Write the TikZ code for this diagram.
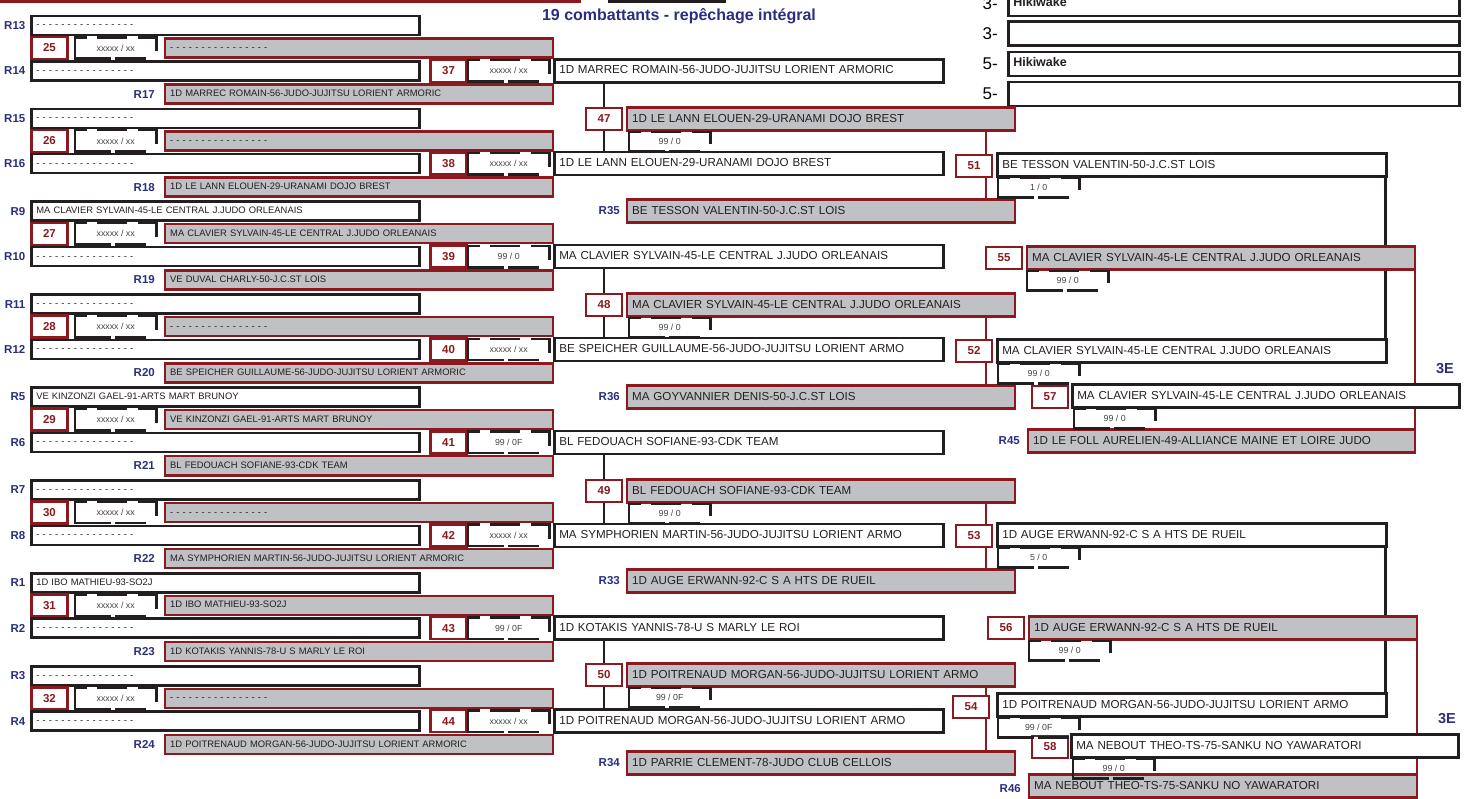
\documentclass[tikz,border=0pt]{standalone}
\usepackage{fontspec}
\setmainfont{Liberation Sans}
\usetikzlibrary{backgrounds}

\definecolor{fdred}{RGB}{139,26,32}
\definecolor{fdgray}{RGB}{192,193,197}
\definecolor{fdblue}{RGB}{43,46,128}
\definecolor{fdblack}{RGB}{35,31,32}
\newcommand{\lignevide}{- - - - - - - - - - - - - - - -}

\begin{document}
\begin{tikzpicture}[x=1pt, y=-1pt,
    name_box/.style={draw=fdblack, line width=2.6pt, fill=white, anchor=west,
        minimum height=19pt, text width=378pt, inner xsep=5pt, inner ysep=0pt,
        text height=6.8pt, text depth=1.8pt, align=left, text=fdblack,
        font=\fontsize{9.4}{10}\selectfont},
    rep_box/.style={name_box, draw=fdred, line width=2.4pt, fill=fdgray},
    win_box/.style={name_box, minimum height=23pt, text width=379pt,
        text height=8.4pt, text depth=2.2pt, font=\fontsize{11.6}{13}\selectfont},
    wrep_box/.style={win_box, draw=fdred, line width=2.4pt, fill=fdgray, text width=378pt},
    place_box/.style={name_box, minimum height=24pt, text width=441pt,
        font=\fontsize{12.5}{14}\selectfont\bfseries},
    place_label/.style={anchor=east, inner sep=0pt, font=\fontsize{17}{18}\selectfont},
    fight_box/.style={draw=fdred, line width=2.4pt, fill=white, minimum width=36pt,
        minimum height=22pt, inner sep=0pt, text=fdred, font=\fontsize{11.5}{12}\selectfont\bfseries},
    score_box/.style={anchor=west, minimum width=81pt, minimum height=21pt, inner sep=0pt,
        text=fdblack!85, font=\fontsize{8.8}{10}\selectfont},
    score_small/.style={score_box, anchor=north west, minimum height=19pt},
    score_line/.style={fdblack, line width=2.5pt,
        dash pattern=on 32pt off 11pt on 30pt off 10pt on 70pt off 4pt on 31pt},
    score_line_s/.style={fdblack, line width=2.5pt,
        dash pattern=on 30pt off 11pt on 30pt off 10pt on 68pt off 4pt on 31pt},
    row_label/.style={anchor=east, inner sep=0pt, text=fdblue,
        font=\fontsize{11.5}{12}\selectfont\bfseries},
    title_label/.style={text=fdblue, font=\fontsize{16}{18}\selectfont\bfseries},
    link/.style={fdblack, line width=2.5pt},
    red_link/.style={fdred, line width=2.5pt}
]
    \useasboundingbox (0,0) rectangle (1465,799);
    \clip (0,0) rectangle (1465,799);
    % En-tete
    \draw[fdred, line width=2.4pt] (0,-30) rectangle (580,1.5);
    \draw[fdblack, line width=2.6pt] (609,-30) rectangle (725,1.5);
    \node[title_label] (titre) at (679,16) {19 combattants - repêchage intégral};
    % Classement
    \node[place_box] (p1) at (1007,4) {Hikiwake};
    \node[place_label] (lp1) at (998,4) {3-};
    \node[place_box] (p2) at (1007,33.5) {};
    \node[place_label] (lp2) at (998,34) {3-};
    \node[place_box] (p3) at (1007,64) {Hikiwake};
    \node[place_label] (lp3) at (998,64) {5-};
    \node[place_box] (p4) at (1007,94) {};
    \node[place_label] (lp4) at (998,94) {5-};

    % Bloc R13 / R14
    \node[row_label] (lR13) at (25.5,25.5) {R13};
    \node[name_box] (R13) at (30,25.5) {\lignevide};
    \node[fight_box] (f25) at (49.5,48) {25};
    \node[score_box] (s25) at (75,48) {xxxxx / xx};
    \node[rep_box] (v25) at (164,48) {\lignevide};
    \node[row_label] (lR14) at (25.5,70.8) {R14};
    \node[name_box] (R14) at (30,70.8) {\lignevide};
    \node[fight_box] (f37) at (448.5,70.8) {37};
    \node[score_box] (s37) at (468,70.8) {xxxxx / xx};
    \node[win_box] (w37) at (553,70.8) {1D MARREC ROMAIN-56-JUDO-JUJITSU LORIENT ARMORIC};
    \node[row_label] (lR17) at (155,94.2) {R17};
    \node[rep_box] (R17) at (164,94.2) {1D MARREC ROMAIN-56-JUDO-JUJITSU LORIENT ARMORIC};
    % Bloc R15 / R16
    \node[row_label] (lR15) at (25.5,118.4) {R15};
    \node[name_box] (R15) at (30,118.4) {\lignevide};
    \node[fight_box] (f26) at (49.5,140.9) {26};
    \node[score_box] (s26) at (75,140.9) {xxxxx / xx};
    \node[rep_box] (v26) at (164,140.9) {\lignevide};
    \node[row_label] (lR16) at (25.5,163.7) {R16};
    \node[name_box] (R16) at (30,163.7) {\lignevide};
    \node[fight_box] (f38) at (448.5,163.7) {38};
    \node[score_box] (s38) at (468,163.7) {xxxxx / xx};
    \node[win_box] (w38) at (553,163.7) {1D LE LANN ELOUEN-29-URANAMI DOJO BREST};
    \node[row_label] (lR18) at (155,187.1) {R18};
    \node[rep_box] (R18) at (164,187.1) {1D LE LANN ELOUEN-29-URANAMI DOJO BREST};
    % Bloc R9 / R10
    \node[row_label] (lR9) at (25.5,211.3) {R9};
    \node[name_box] (R9) at (30,211.3) {MA CLAVIER SYLVAIN-45-LE CENTRAL J.JUDO ORLEANAIS};
    \node[fight_box] (f27) at (49.5,233.8) {27};
    \node[score_box] (s27) at (75,233.8) {xxxxx / xx};
    \node[rep_box] (v27) at (164,233.8) {MA CLAVIER SYLVAIN-45-LE CENTRAL J.JUDO ORLEANAIS};
    \node[row_label] (lR10) at (25.5,256.6) {R10};
    \node[name_box] (R10) at (30,256.6) {\lignevide};
    \node[fight_box] (f39) at (448.5,256.6) {39};
    \node[score_box] (s39) at (468,256.6) {99 / 0};
    \node[win_box] (w39) at (553,256.6) {MA CLAVIER SYLVAIN-45-LE CENTRAL J.JUDO ORLEANAIS};
    \node[row_label] (lR19) at (155,280) {R19};
    \node[rep_box] (R19) at (164,280) {VE DUVAL CHARLY-50-J.C.ST LOIS};
    % Bloc R11 / R12
    \node[row_label] (lR11) at (25.5,304.2) {R11};
    \node[name_box] (R11) at (30,304.2) {\lignevide};
    \node[fight_box] (f28) at (49.5,326.7) {28};
    \node[score_box] (s28) at (75,326.7) {xxxxx / xx};
    \node[rep_box] (v28) at (164,326.7) {\lignevide};
    \node[row_label] (lR12) at (25.5,349.5) {R12};
    \node[name_box] (R12) at (30,349.5) {\lignevide};
    \node[fight_box] (f40) at (448.5,349.5) {40};
    \node[score_box] (s40) at (468,349.5) {xxxxx / xx};
    \node[win_box] (w40) at (553,349.5) {BE SPEICHER GUILLAUME-56-JUDO-JUJITSU LORIENT ARMO};
    \node[row_label] (lR20) at (155,372.9) {R20};
    \node[rep_box] (R20) at (164,372.9) {BE SPEICHER GUILLAUME-56-JUDO-JUJITSU LORIENT ARMORIC};
    % Bloc R5 / R6
    \node[row_label] (lR5) at (25.5,397.1) {R5};
    \node[name_box] (R5) at (30,397.1) {VE KINZONZI GAEL-91-ARTS MART BRUNOY};
    \node[fight_box] (f29) at (49.5,419.6) {29};
    \node[score_box] (s29) at (75,419.6) {xxxxx / xx};
    \node[rep_box] (v29) at (164,419.6) {VE KINZONZI GAEL-91-ARTS MART BRUNOY};
    \node[row_label] (lR6) at (25.5,442.4) {R6};
    \node[name_box] (R6) at (30,442.4) {\lignevide};
    \node[fight_box] (f41) at (448.5,442.4) {41};
    \node[score_box] (s41) at (468,442.4) {99 / 0F};
    \node[win_box] (w41) at (553,442.4) {BL FEDOUACH SOFIANE-93-CDK TEAM};
    \node[row_label] (lR21) at (155,465.8) {R21};
    \node[rep_box] (R21) at (164,465.8) {BL FEDOUACH SOFIANE-93-CDK TEAM};
    % Bloc R7 / R8
    \node[row_label] (lR7) at (25.5,490) {R7};
    \node[name_box] (R7) at (30,490) {\lignevide};
    \node[fight_box] (f30) at (49.5,512.5) {30};
    \node[score_box] (s30) at (75,512.5) {xxxxx / xx};
    \node[rep_box] (v30) at (164,512.5) {\lignevide};
    \node[row_label] (lR8) at (25.5,535.3) {R8};
    \node[name_box] (R8) at (30,535.3) {\lignevide};
    \node[fight_box] (f42) at (448.5,535.3) {42};
    \node[score_box] (s42) at (468,535.3) {xxxxx / xx};
    \node[win_box] (w42) at (553,535.3) {MA SYMPHORIEN MARTIN-56-JUDO-JUJITSU LORIENT ARMO};
    \node[row_label] (lR22) at (155,558.7) {R22};
    \node[rep_box] (R22) at (164,558.7) {MA SYMPHORIEN MARTIN-56-JUDO-JUJITSU LORIENT ARMORIC};
    % Bloc R1 / R2
    \node[row_label] (lR1) at (25.5,582.9) {R1};
    \node[name_box] (R1) at (30,582.9) {1D IBO MATHIEU-93-SO2J};
    \node[fight_box] (f31) at (49.5,605.4) {31};
    \node[score_box] (s31) at (75,605.4) {xxxxx / xx};
    \node[rep_box] (v31) at (164,605.4) {1D IBO MATHIEU-93-SO2J};
    \node[row_label] (lR2) at (25.5,628.2) {R2};
    \node[name_box] (R2) at (30,628.2) {\lignevide};
    \node[fight_box] (f43) at (448.5,628.2) {43};
    \node[score_box] (s43) at (468,628.2) {99 / 0F};
    \node[win_box] (w43) at (553,628.2) {1D KOTAKIS YANNIS-78-U S MARLY LE ROI};
    \node[row_label] (lR23) at (155,651.6) {R23};
    \node[rep_box] (R23) at (164,651.6) {1D KOTAKIS YANNIS-78-U S MARLY LE ROI};
    % Bloc R3 / R4
    \node[row_label] (lR3) at (25.5,675.8) {R3};
    \node[name_box] (R3) at (30,675.8) {\lignevide};
    \node[fight_box] (f32) at (49.5,698.3) {32};
    \node[score_box] (s32) at (75,698.3) {xxxxx / xx};
    \node[rep_box] (v32) at (164,698.3) {\lignevide};
    \node[row_label] (lR4) at (25.5,721.1) {R4};
    \node[name_box] (R4) at (30,721.1) {\lignevide};
    \node[fight_box] (f44) at (448.5,721.1) {44};
    \node[score_box] (s44) at (468,721.1) {xxxxx / xx};
    \node[win_box] (w44) at (553,721.1) {1D POITRENAUD MORGAN-56-JUDO-JUJITSU LORIENT ARMO};
    \node[row_label] (lR24) at (155,744.5) {R24};
    \node[rep_box] (R24) at (164,744.5) {1D POITRENAUD MORGAN-56-JUDO-JUJITSU LORIENT ARMORIC};

    % Combats 47 a 50 et repechages
    \node[wrep_box] (g47) at (626,119) {1D LE LANN ELOUEN-29-URANAMI DOJO BREST};
    \node[fight_box] (f47) at (604,119) {47};
    \node[score_small] (s47) at (629,132) {99 / 0};
    \node[row_label] (lR35) at (620,211) {R35};
    \node[wrep_box] (R35) at (626,211) {BE TESSON VALENTIN-50-J.C.ST LOIS};
    \node[wrep_box] (g48) at (626,305) {MA CLAVIER SYLVAIN-45-LE CENTRAL J.JUDO ORLEANAIS};
    \node[fight_box] (f48) at (604,305) {48};
    \node[score_small] (s48) at (629,318) {99 / 0};
    \node[row_label] (lR36) at (620,397) {R36};
    \node[wrep_box] (R36) at (626,397) {MA GOYVANNIER DENIS-50-J.C.ST LOIS};
    \node[wrep_box] (g49) at (626,491) {BL FEDOUACH SOFIANE-93-CDK TEAM};
    \node[fight_box] (f49) at (604,491) {49};
    \node[score_small] (s49) at (629,504) {99 / 0};
    \node[row_label] (lR33) at (620,581) {R33};
    \node[wrep_box] (R33) at (626,581) {1D AUGE ERWANN-92-C S A HTS DE RUEIL};
    \node[wrep_box] (g50) at (626,675) {1D POITRENAUD MORGAN-56-JUDO-JUJITSU LORIENT ARMO};
    \node[fight_box] (f50) at (604,675) {50};
    \node[score_small] (s50) at (629,688) {99 / 0F};
    \node[row_label] (lR34) at (620,763) {R34};
    \node[wrep_box] (R34) at (626,763) {1D PARRIE CLEMENT-78-JUDO CLUB CELLOIS};

    % Combats 51 a 54
    \node[fight_box] (f51) at (974,166) {51};
    \node[win_box] (w51) at (996,165) {BE TESSON VALENTIN-50-J.C.ST LOIS};
    \node[score_small] (s51) at (998,178) {1 / 0};
    \node[fight_box] (f52) at (974,351) {52};
    \node[win_box] (w52) at (996,351) {MA CLAVIER SYLVAIN-45-LE CENTRAL J.JUDO ORLEANAIS};
    \node[score_small] (s52) at (998,364) {99 / 0};
    \node[fight_box] (f53) at (974,536) {53};
    \node[win_box] (w53) at (996,535) {1D AUGE ERWANN-92-C S A HTS DE RUEIL};
    \node[score_small] (s53) at (998,548) {5 / 0};
    \node[fight_box] (f54) at (971,707) {54};
    \node[win_box] (w54) at (996,705) {1D POITRENAUD MORGAN-56-JUDO-JUJITSU LORIENT ARMO};
    \node[score_small] (s54) at (998,718) {99 / 0F};

    % Combats 55 a 58 et places de 3e
    \node[fight_box] (f55) at (1004,258) {55};
    \node[wrep_box] (g55) at (1026,258) {MA CLAVIER SYLVAIN-45-LE CENTRAL J.JUDO ORLEANAIS};
    \node[score_small] (s55) at (1027,271) {99 / 0};
    \node[fight_box] (f57) at (1050,397) {57};
    \node[win_box, text width=377pt] (w57) at (1071,396) {MA CLAVIER SYLVAIN-45-LE CENTRAL J.JUDO ORLEANAIS};
    \node[score_small] (s57) at (1074,409) {99 / 0};
    \node[row_label] (lR45) at (1020,441) {R45};
    \node[wrep_box, text width=377pt] (R45) at (1027,441) {1D LE FOLL AURELIEN-49-ALLIANCE MAINE ET LOIRE JUDO};
    \node[row_label, font=\fontsize{14.5}{16}\selectfont\bfseries] (e57) at (1454,369) {3E};
    \node[fight_box] (f56) at (1006,628) {56};
    \node[wrep_box] (g56) at (1028,628) {1D AUGE ERWANN-92-C S A HTS DE RUEIL};
    \node[score_small] (s56) at (1029,641) {99 / 0};
    \node[fight_box] (f58) at (1050,747) {58};
    \node[win_box, text width=377pt] (w58) at (1070,746) {MA NEBOUT THEO-TS-75-SANKU NO YAWARATORI};
    \node[score_small] (s58) at (1073,759) {99 / 0};
    \node[row_label] (lR46) at (1021,789) {R46};
    \node[wrep_box] (R46) at (1028,786) {MA NEBOUT THEO-TS-75-SANKU NO YAWARATORI};
    \node[row_label, font=\fontsize{14.5}{16}\selectfont\bfseries] (e58) at (1456,719) {3E};

    % Cadres des scores
    \foreach \s in {s25,s26,s27,s28,s29,s30,s31,s32,s37,s38,s39,s40,s41,s42,s43,s44}
        \draw[score_line] ([yshift=-14pt]\s.north east) |- (\s.north west) |- ([xshift=-6pt]\s.south east);
    \foreach \s in {s47,s48,s49,s50,s51,s52,s53,s54,s55,s56,s57,s58}
        \draw[score_line_s] ([yshift=-12pt]\s.north east) |- (\s.north west) |- ([xshift=-6pt]\s.south east);

    % Liaisons
    \begin{scope}[on background layer]
        \draw[link] ([xshift=51pt]w37.south west) -- ([xshift=51pt]w38.north west);
        \draw[link] ([xshift=51pt]w39.south west) -- ([xshift=51pt]w40.north west);
        \draw[link] ([xshift=51pt]w41.south west) -- ([xshift=51pt]w42.north west);
        \draw[link] ([xshift=51pt]w43.south west) -- ([xshift=51pt]w44.north west);
        \draw[red_link] ([xshift=360pt]g47.south west) -- ([xshift=360pt]R35.north west);
        \draw[red_link] ([xshift=360pt]g48.south west) -- ([xshift=360pt]R36.north west);
        \draw[red_link] ([xshift=360pt]g49.south west) -- ([xshift=360pt]R33.north west);
        \draw[red_link] ([xshift=360pt]g50.south west) -- ([xshift=360pt]R34.north west);
        \draw[link] ([xshift=-2pt]w51.south east) -- ([xshift=-2pt]w52.north east);
        \draw[link] ([xshift=-2pt]w53.south east) -- ([xshift=-2pt]w54.north east);
        \draw[red_link] ([xshift=-1.5pt]g55.south east) -- ([xshift=-1.5pt]R45.north east);
        \draw[red_link] ([xshift=-1.5pt]g56.south east) -- ([xshift=-1.5pt]R46.north east);
    \end{scope}
\end{tikzpicture}
\end{document}
